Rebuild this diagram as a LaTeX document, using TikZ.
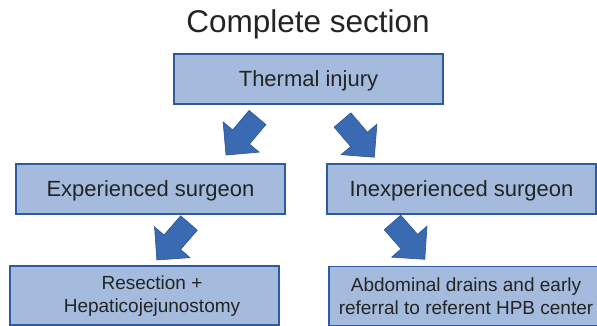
\documentclass[tikz,border=0pt]{standalone}
\usepackage{fontspec}
\setmainfont{Liberation Sans}
\definecolor{boxfill}{RGB}{164,187,221}
\definecolor{boxline}{RGB}{46,90,160}
\definecolor{arrowfill}{RGB}{58,106,178}
\definecolor{arrowline}{RGB}{44,84,150}
\definecolor{ink}{RGB}{36,36,36}
\tikzset{
  panel/.style={draw=boxline, line width=1.4pt, fill=boxfill, rectangle,
    minimum width=269pt, inner sep=0pt},
  bigtext/.style={text=ink, inner sep=0pt, anchor=base,
    font=\fontsize{22}{26}\selectfont},
  smalltext/.style={text=ink, inner sep=0pt, align=center,
    font=\fontsize{19}{23.5}\selectfont},
  blockarrow/.pic={
    \fill[arrowfill, draw=arrowline, line width=0.6pt, line join=miter]
      (0,-11) -- (25.5,-11) -- (25.5,-23.5) -- (49,0) -- (25.5,23.5)
      -- (25.5,11) -- (0,11) -- cycle;
  }
}
\begin{document}
\begin{tikzpicture}[x=1pt,y=-1pt]
\useasboundingbox (0,0) rectangle (597,326);
\clip (0,0) rectangle (597,326);

% title
\node[text=ink, inner sep=0pt, anchor=base, font=\fontsize{31.5}{36}\selectfont]
  (title) at (308,33) {Complete section};

% boxes, each with its caption set on a baseline below the box centre
\node[panel, minimum height=50pt] (thermal) at (308.5,79) {};
\node[bigtext] (thermaltext) at ([yshift=-7.5pt]thermal.center) {Thermal injury};

\node[panel, minimum height=50pt] (exp) at (150.5,189) {};
\node[bigtext] (exptext) at ([yshift=-7.5pt]exp.center) {Experienced surgeon};

\node[panel, minimum height=50pt] (inexp) at (461.5,189) {};
\node[bigtext] (inexptext) at ([yshift=-7.5pt]inexp.center) {Inexperienced surgeon};

\node[panel, minimum height=59pt] (res) at (144.5,295.5) {};
\node[smalltext] (restext) at (152,296) {Resection +\\Hepaticojejunostomy};

\node[panel, minimum height=59pt] (abd) at (463.5,296) {};
\node[smalltext] (abdtext) at (466,296) {Abdominal drains and early\\referral to referent HPB center};

% block arrows between levels
\pic[rotate=230] (arrowA) at (257.5,117.5) {blockarrow};
\pic[rotate=310.5] (arrowB) at (342.5,120) {blockarrow};
\pic[rotate=229] (arrowC) at (189,223) {blockarrow};
\pic[rotate=311.3] (arrowD) at (392.5,222.5) {blockarrow};
\end{tikzpicture}
\end{document}
